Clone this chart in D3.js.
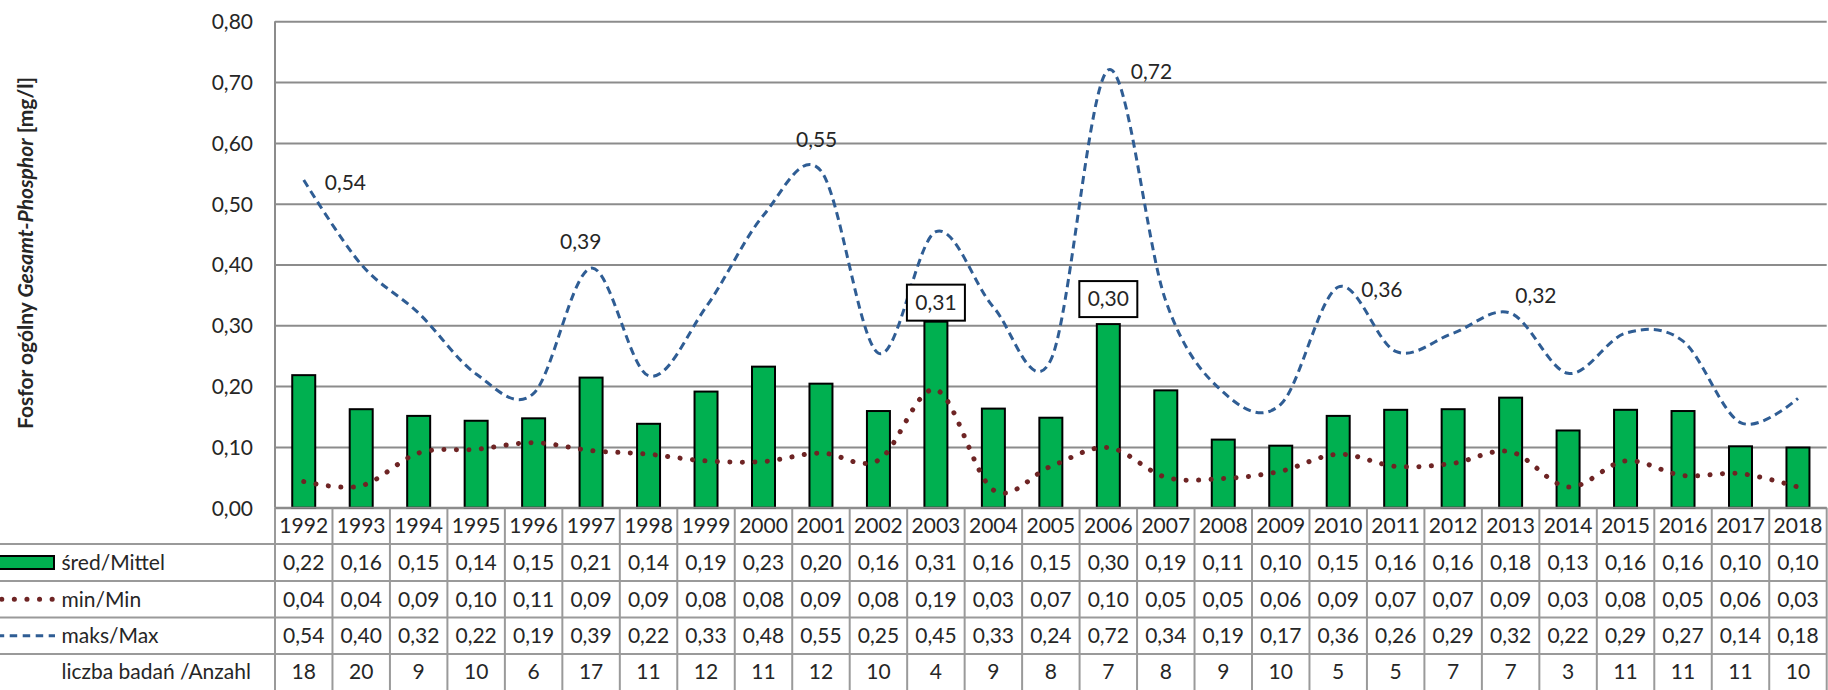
<!DOCTYPE html>
<html><head><meta charset="utf-8">
<script src="https://cdn.jsdelivr.net/npm/d3@7"></script>
<style>
html,body{margin:0;padding:0;background:#fff;}
svg text{font-family:Lato,"Noto Sans",sans-serif;fill:#262626;}
</style></head><body>
<svg id="chart" width="1828" height="690"></svg>
<script>
// ---------- DATA ----------
const years = [1992,1993,1994,1995,1996,1997,1998,1999,2000,2001,2002,2003,2004,2005,2006,2007,2008,2009,2010,2011,2012,2013,2014,2015,2016,2017,2018];
const meanValues = [0.218,0.162,0.151,0.143,0.147,0.214,0.138,0.191,0.232,0.204,0.159,0.306,0.163,0.148,0.302,0.193,0.112,0.102,0.151,0.161,0.162,0.181,0.127,0.161,0.159,0.101,0.099];
const minValues  = [0.043,0.036,0.090,0.096,0.107,0.094,0.088,0.077,0.076,0.090,0.078,0.194,0.029,0.068,0.099,0.050,0.048,0.060,0.088,0.068,0.073,0.092,0.034,0.077,0.053,0.056,0.034];
const maxValues  = [0.539,0.400,0.320,0.220,0.188,0.394,0.217,0.330,0.481,0.554,0.254,0.454,0.330,0.243,0.720,0.340,0.190,0.170,0.363,0.257,0.287,0.320,0.221,0.287,0.274,0.140,0.180];
const sampleCounts = [18,20,9,10,6,17,11,12,11,12,10,4,9,8,7,8,9,10,5,5,7,7,3,11,11,11,10];
const yTickValues = [0,0.1,0.2,0.3,0.4,0.5,0.6,0.7,0.8];
const seriesNames = ["śred/Mittel","min/Min","maks/Max","liczba badań /Anzahl"];
const maxLabelYears = [1992,1997,2001,2006,2010,2013];
const meanLabelYears = [2003,2006];
const titleParts = [{t:"Fosfor ogólny ",italic:false},{t:"Gesamt-Phosphor",italic:true},{t:" [mg/l]",italic:false}];

// ---------- STYLE / LAYOUT ----------
const W = 1828, H = 690;
const plot = {left:275, right:1826.7, top:21.3, bottom:507.7};
const rowEdges = [507.7, 544, 581, 617.5, 654, 690];
const FS = 21;
const C = {green:"#00b050", minC:"#6e2424", maxC:"#2f5d94", grid:"#8c8c8c", table:"#9a9a9a"};
// label offsets relative to data point: [dx (left of text), dy (text center)]
const maxLabelOffsets = {1992:[21,3],1997:[-31,-26.5],2001:[-25,-31.5],2006:[22.5,1.7],2010:[23,3],2013:[4.6,-17]};
const meanLabelGap = {2003:1,2006:7};

const fmt = v => v.toFixed(2).replace(".", ",");

const svg = d3.select("#chart");
svg.append("rect").attr("width",W).attr("height",H).attr("fill","#fff");

const x = d3.scaleBand().domain(years).range([plot.left, plot.right]).paddingInner(0).paddingOuter(0);
const y = d3.scaleLinear().domain([0,0.8]).range([plot.bottom, plot.top]);
const cx = yr => x(yr) + x.bandwidth()/2;

// gridlines
const grid = svg.append("g").attr("transform",`translate(${plot.left},0)`)
  .call(d3.axisLeft(y).tickValues(yTickValues).tickSize(-(plot.right-plot.left)).tickFormat(""));
grid.select(".domain").remove();
grid.selectAll(".tick line").attr("stroke",C.grid).attr("stroke-width",2);

// y tick labels
const yAxis = svg.append("g").attr("transform",`translate(${plot.left-22},0)`)
  .call(d3.axisLeft(y).tickValues(yTickValues).tickSize(0).tickPadding(0).tickFormat(fmt));
yAxis.select(".domain").remove();
yAxis.selectAll(".tick text").attr("font-size",FS).attr("fill","#262626")
  .attr("font-family","Lato").attr("dy","0.35em");

// left axis line
svg.append("line").attr("x1",plot.left).attr("x2",plot.left).attr("y1",plot.top).attr("y2",plot.bottom)
  .attr("stroke",C.grid).attr("stroke-width",2);

// bars
const bw = x.bandwidth()*0.4;
svg.append("g").selectAll("rect").data(years).join("rect")
  .attr("x", (d)=>cx(d)-bw/2)
  .attr("y", (d,i)=>y(meanValues[i]))
  .attr("width", bw)
  .attr("height", (d,i)=>plot.bottom - y(meanValues[i]))
  .attr("fill", C.green).attr("stroke","#000").attr("stroke-width",2);

// lines
const lineGen = vals => d3.line().x((d)=>cx(d)).y((d,i)=>y(vals[i])).curve(d3.curveCardinal.tension(0))(years);
svg.append("path").attr("d", lineGen(minValues)).attr("fill","none")
  .attr("stroke",C.minC).attr("stroke-width",5).attr("stroke-linecap","round").attr("stroke-dasharray","0.1 12.4");
svg.append("path").attr("d", lineGen(maxValues)).attr("fill","none")
  .attr("stroke",C.maxC).attr("stroke-width",3).attr("stroke-dasharray","8 5");

// max labels
maxLabelYears.forEach(yr=>{
  const i = years.indexOf(yr), o = maxLabelOffsets[yr];
  svg.append("text").attr("x", cx(yr)+o[0]).attr("y", y(maxValues[i])+o[1]).attr("dy","0.35em")
    .attr("font-size",FS).text(fmt(maxValues[i]));
});

// mean boxed labels
meanLabelYears.forEach(yr=>{
  const i = years.indexOf(yr);
  const bottom = y(meanValues[i]) - meanLabelGap[yr];
  const bwid = 58, bh = 36;
  svg.append("rect").attr("x", cx(yr)-bwid/2).attr("y", bottom-bh).attr("width",bwid).attr("height",bh)
    .attr("fill","#fff").attr("stroke","#000").attr("stroke-width",2);
  svg.append("text").attr("x", cx(yr)).attr("y", bottom-bh/2).attr("dy","0.35em")
    .attr("text-anchor","middle").attr("font-size",FS).text(fmt(meanValues[i]));
});

// ---------- TABLE ----------
const tbl = svg.append("g");
// horizontal lines
rowEdges.slice(1,5).forEach(ry=>{
  tbl.append("line").attr("x1",0).attr("x2",plot.right).attr("y1",ry).attr("y2",ry)
    .attr("stroke",C.table).attr("stroke-width",2);
});
// vertical lines
const colEdges = years.map(yr=>x(yr)).concat([plot.right]);
colEdges.forEach(ex=>{
  tbl.append("line").attr("x1",ex).attr("x2",ex).attr("y1",rowEdges[0]).attr("y2",H)
    .attr("stroke",C.table).attr("stroke-width",2);
});
// axis line at bottom of plot (top of year row)
tbl.append("line").attr("x1",plot.left).attr("x2",plot.right).attr("y1",plot.bottom).attr("y2",plot.bottom)
  .attr("stroke",C.grid).attr("stroke-width",2);

const rowCenter = k => (rowEdges[k]+rowEdges[k+1])/2;
const rowsData = [years.map(String), meanValues.map(fmt), minValues.map(fmt), maxValues.map(fmt), sampleCounts.map(String)];
rowsData.forEach((row,k)=>{
  tbl.append("g").selectAll("text").data(row).join("text")
    .attr("x",(d,i)=>cx(years[i])).attr("y",rowCenter(k)).attr("dy","0.35em")
    .attr("text-anchor","middle").attr("font-size",FS).text(d=>d);
});
// legend cells
const labelX = 61.5;
seriesNames.forEach((nm,k)=>{
  tbl.append("text").attr("x",labelX).attr("y",rowCenter(k+1)).attr("dy","0.35em").attr("font-size",FS).text(nm);
});
tbl.append("rect").attr("x",-2).attr("y",rowCenter(1)-6.5).attr("width",56).attr("height",13)
  .attr("fill",C.green).attr("stroke","#000").attr("stroke-width",2);
tbl.append("line").attr("x1",1.7).attr("x2",54).attr("y1",rowCenter(2)).attr("y2",rowCenter(2))
  .attr("stroke",C.minC).attr("stroke-width",5).attr("stroke-linecap","round").attr("stroke-dasharray","0.1 12.5");
tbl.append("line").attr("x1",-3.3).attr("x2",55).attr("y1",rowCenter(3)).attr("y2",rowCenter(3))
  .attr("stroke",C.maxC).attr("stroke-width",3).attr("stroke-dasharray","7.5 5.5");

// y-axis title
const title = svg.append("text").attr("transform","translate(26,253) rotate(-90)")
  .attr("text-anchor","middle").attr("dy","0.35em").attr("font-size",FS).attr("font-weight","bold");
titleParts.forEach(p=>{
  title.append("tspan").attr("font-style", p.italic?"italic":"normal").text(p.t);
});
</script>
</body></html>
